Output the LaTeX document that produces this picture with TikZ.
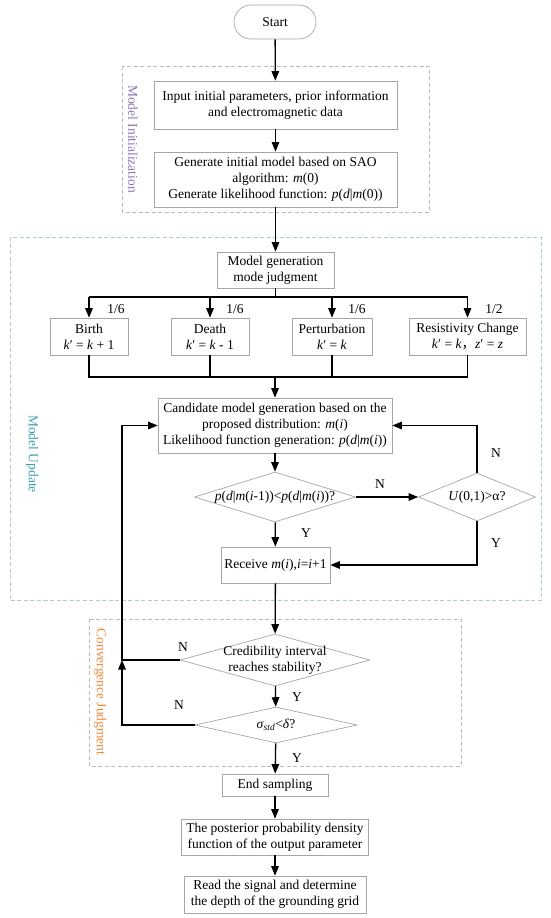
\documentclass[tikz,border=0pt]{standalone}
\usepackage{fontspec}
\setmainfont{Liberation Serif}
\newfontfamily\cjk{Noto Sans CJK SC}
\usetikzlibrary{arrows.meta,shapes.geometric}
\definecolor{boxgray}{HTML}{A6A6A6}
\definecolor{grpgray}{HTML}{BBBBBB}
\definecolor{grpteal}{HTML}{B2CBD0}
\definecolor{lblpurple}{HTML}{8A76B4}
\definecolor{lblteal}{HTML}{3C9DB2}
\definecolor{lblorange}{HTML}{EC8A3E}
\begin{document}
\begin{tikzpicture}[x=1pt,y=-1pt,
  base/.style={font=\fontsize{13.5}{16}\selectfont, text=black},
  procbox/.style={base, draw=boxgray, line width=0.7pt, align=center, inner sep=0pt},
  decision/.style={diamond, draw=boxgray, line width=0.7pt, inner sep=0pt},
  lbl/.style={base, inner sep=0pt},
  arr/.style={-{Triangle[length=9.5pt,width=7.5pt]}, line width=1.3pt},
  ln/.style={line width=1.3pt},
  grp/.style={dashed, dash pattern=on 4pt off 2.5pt, line width=0.6pt},
  grplbl/.style={base, rotate=-90, inner sep=0pt}
]
\useasboundingbox (0,0) rectangle (550,918);

% group frames
\draw[grp, draw=grpgray] (122,66) rectangle (429,212);
\draw[grp, draw=grpteal] (10,237) rectangle (541,600);
\draw[grp, draw=grpgray] (89,619) rectangle (461,766);
\node[grplbl, text=lblpurple] (gInit) at (133,139) {Model Initialization};
\node[grplbl, text=lblteal] (gUpd) at (32,454) {Model Update};
\node[grplbl, text=lblorange] (gConv) at (100,692) {Convergence Judgment};

% nodes
\node[procbox, rounded corners=17pt, minimum width=82pt, minimum height=34pt] (start) at (275,22) {Start};
\node[procbox, minimum width=243pt, minimum height=48pt] (input) at (275.5,105)
  {Input initial parameters, prior information\\and electromagnetic data};
\node[procbox, minimum width=243pt, minimum height=55pt] (gen) at (275.5,179.5)
  {Generate initial model based on SAO\\algorithm: \textit{m}(0)\\Generate likelihood function: \textit{p}(\textit{d}|\textit{m}(0))};
\node[procbox, minimum width=117pt, minimum height=36pt] (mgen) at (275.5,270)
  {Model generation\\mode judgment};
\node[procbox, minimum width=78pt, minimum height=37pt] (birth) at (89,336.5)
  {Birth\\\textit{k}′ = \textit{k} + 1};
\node[procbox, minimum width=78pt, minimum height=37pt] (death) at (210,336.5)
  {Death\\\textit{k}′ = \textit{k} - 1};
\node[procbox, minimum width=80pt, minimum height=37pt] (pert) at (332,336.5)
  {Perturbation\\\textit{k}′ = \textit{k}};
\node[procbox, minimum width=117pt, minimum height=37pt] (resist) at (467.5,336.5)
  {Resistivity Change\\\textit{k}′ = \textit{k}{\cjk ，}\textit{z}′ = \textit{z}};
\node[procbox, minimum width=234pt, minimum height=55pt] (cand) at (275,425.5)
  {Candidate model generation based on the\\proposed distribution: \textit{m}(\textit{i})\\Likelihood function generation: \textit{p}(\textit{d}|\textit{m}(\textit{i}))};
\node[decision, minimum width=161pt, minimum height=50pt] (d1) at (275,497) {};
\node[lbl] (d1t) at (d1.center) {\textit{p}(\textit{d}|\textit{m}(\textit{i}-1))<\textit{p}(\textit{d}|\textit{m}(\textit{i}))?};
\node[decision, minimum width=117pt, minimum height=48pt] (d2) at (477,497) {};
\node[lbl] (d2t) at (d2.center) {\textit{U}(0,1)>α?};
\node[procbox, minimum width=109pt, minimum height=36pt] (recv) at (275.5,565)
  {Receive \textit{m}(\textit{i}),\textit{i}=\textit{i}+1};
\node[decision, minimum width=190pt, minimum height=52pt] (d3) at (275,660) {};
\node[lbl, align=center] (d3t) at (d3.center) {Credibility interval\\reaches stability?};
\node[decision, minimum width=162pt, minimum height=36pt] (d4) at (276,725) {};
\node[lbl] (d4t) at (d4.center) {\textit{σ}\textsubscript{\textit{std}}<\textit{δ}?};
\node[procbox, minimum width=106pt, minimum height=22pt] (endS) at (275,785) {End sampling};
\node[procbox, minimum width=187pt, minimum height=36pt] (post) at (275,837)
  {The posterior probability density\\function of the output parameter};
\node[procbox, minimum width=182pt, minimum height=37pt] (read) at (275,894.5)
  {Read the signal and determine\\the depth of the grounding grid};

% coordinates
\coordinate (split) at (275.5,297);
\coordinate (merge) at (275,377);
\coordinate (loopJ) at (122,660);

% connectors
\draw[arr] (start) -- (input);
\draw[arr] (input) -- (gen);
\draw[arr] (gen) -- (mgen);
\draw[ln] (mgen.south) -- (split);
\draw[ln] (birth.north |- split) -- (resist.north |- split);
\draw[arr] (birth.north |- split) -- (birth.north);
\draw[arr] (death.north |- split) -- (death.north);
\draw[arr] (pert.north |- split) -- (pert.north);
\draw[arr] (resist.north |- split) -- (resist.north);
\draw[ln] (birth.south) -- (birth.south |- merge) -- (resist.south |- merge) -- (resist.south);
\draw[ln] (death.south) -- (death.south |- merge);
\draw[ln] (pert.south) -- (pert.south |- merge);
\draw[arr] (merge) -- (cand.north);
\draw[arr] (cand) -- (d1);
\draw[arr] (d1) -- (recv);
\draw[arr] (d1.east) -- (d2.west);
\draw[arr] (d2.north) |- (cand.east);
\draw[arr] (d2.south) |- (recv.east);
\draw[arr] (recv) -- (d3);
\draw[arr] (d3) -- (d4);
\draw[arr] (d3.west) -- (loopJ) |- (cand.west);
\draw[arr] (d4.west) -| (loopJ);
\draw[arr] (d4) -- (endS);
\draw[arr] (endS) -- (post);
\draw[arr] (post) -- (read);

% labels
\node[lbl] (p1) at (116,309) {1/6};
\node[lbl] (p2) at (235,309) {1/6};
\node[lbl] (p3) at (357,309) {1/6};
\node[lbl] (p4) at (494,309) {1/2};
\node[lbl] (n1) at (380,484) {N};
\node[lbl] (n2) at (496,453) {N};
\node[lbl] (y2) at (496,543) {Y};
\node[lbl] (y1) at (306,533) {Y};
\node[lbl] (n3) at (183,647) {N};
\node[lbl] (y3) at (297,697) {Y};
\node[lbl] (n4) at (179,705) {N};
\node[lbl] (y4) at (297,758) {Y};
\end{tikzpicture}
\end{document}
